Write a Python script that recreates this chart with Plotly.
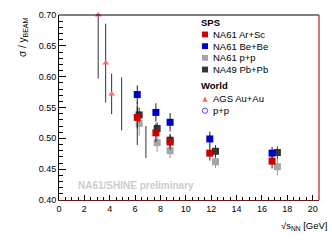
import plotly.graph_objects as go

# ---- data ----
argon_x = [6.17, 7.64, 8.76, 11.89, 16.8]
argon_y = [0.534, 0.509, 0.494, 0.476, 0.463]
argon_err = [0.018, 0.015, 0.012, 0.012, 0.012]

beryl_x = [6.17, 7.64, 8.76, 11.89, 16.8]
beryl_y = [0.571, 0.542, 0.526, 0.499, 0.476]
beryl_err = [0.015, 0.015, 0.015, 0.012, 0.010]

pp61_x = [6.32, 7.74, 8.76, 12.34, 17.22]
pp61_y = [0.524, 0.493, 0.480, 0.462, 0.454]
pp61_err = [0.020, 0.015, 0.012, 0.010, 0.014]

pb49_x = [6.32, 7.74, 8.76, 12.34, 17.22]
pb49_y = [0.538, 0.516, 0.497, 0.479, 0.477]
pb49_err = [0.012, 0.010, 0.010, 0.010, 0.010]

ags_x = [3.09, 3.68, 4.15]
ags_y = [0.700, 0.622, 0.572]
ags_err_up = [0.0, 0.064, 0.033]
ags_err_dn = [0.103, 0.064, 0.033]

ppw_x = [4.94, 6.17, 6.85]
ppw_y = [0.556, 0.524, 0.494]
ppw_err = [0.043, 0.035, 0.026]

FONT = "Liberation Sans"

fig = go.Figure()

def add(x, y, err, color, ecolor, symbol, size, name, errm=None, line=None):
    ey = dict(type="data", array=err, color=ecolor, thickness=1, width=0)
    if errm is not None:
        ey["arrayminus"] = errm
        ey["symmetric"] = False
    m = dict(color=color, symbol=symbol, size=size)
    if line:
        m["line"] = line
    fig.add_trace(go.Scatter(x=x, y=y, mode="markers", name=name, marker=m,
                             error_y=ey, cliponaxis=False, showlegend=False))

add(ppw_x, ppw_y, ppw_err, "rgba(0,0,0,0)", "#333333", "circle-open", 7, "p+p",
    line=dict(color="#4d4dff", width=1))
add(ags_x, ags_y, ags_err_up, "#ff6b6b", "#333333", "triangle-up", 6, "AGS Au+Au", errm=ags_err_dn)
add(pp61_x, pp61_y, pp61_err, "#a6a6a6", "#999999", "square", 7, "NA61 p+p")
add(pb49_x, pb49_y, pb49_err, "#333333", "#333333", "square", 7, "NA49 Pb+Pb")
add(beryl_x, beryl_y, beryl_err, "#0000cc", "#222222", "square", 7, "NA61 Be+Be")
add(argon_x, argon_y, argon_err, "#cc0000", "#222222", "square", 7, "NA61 Ar+Sc")

# ---- layout geometry ----
L, R, T, B = 59, 13, 10, 40
W, H = 332, 240
pw, ph = W - L - R, H - T - B

def px(x):
    return (x - L) / pw

def py(y):
    return (H - B - y) / ph

shapes = [
    dict(type="line", xref="paper", yref="paper", x0=0, x1=1, y0=1, y1=1,
         line=dict(color="black", width=1)),
    dict(type="line", xref="paper", yref="paper", x0=1, x1=1, y0=0, y1=1,
         line=dict(color="#b22222", width=1.2)),
]
annotations = []

def txt(x, y, s, size=9.5, bold=False, color="black", xanchor="left"):
    annotations.append(dict(xref="paper", yref="paper", x=px(x), y=py(y),
                            text=f"<b>{s}</b>" if bold else s, showarrow=False,
                            xanchor=xanchor, yanchor="middle",
                            font=dict(family=FONT, size=size, color=color)))

# legend
txt(199, 17.5, "SPS", bold=True)
leg_sq = [("NA61 Ar+Sc", "#cc0000", 30), ("NA61 Be+Be", "#0000cc", 42),
          ("NA61 p+p", "#a6a6a6", 54), ("NA49 Pb+Pb", "#333333", 66)]
for name, col, yy in leg_sq:
    shapes.append(dict(type="rect", xref="paper", yref="paper",
                       x0=px(202), x1=px(208), y0=py(yy + 3), y1=py(yy - 3),
                       fillcolor=col, line=dict(width=0)))
    txt(210.5, yy, name)
txt(199, 82.5, "World", bold=True)
# triangle
shapes.append(dict(type="path", xref="paper", yref="paper",
                   path=f"M {px(202.3)} {py(99)} L {px(207.7)} {py(99)} L {px(205)} {py(93.5)} Z",
                   fillcolor="#ff6b6b", line=dict(width=0)))
txt(210.5, 96, "AGS Au+Au")
shapes.append(dict(type="circle", xref="paper", yref="paper",
                   x0=px(202.3), x1=px(207.7), y0=py(111), y1=py(105.6),
                   line=dict(color="#4d4dff", width=1)))
txt(210.5, 108.3, "p+p")

# watermark
txt(76, 185.5, "NA61/SHINE preliminary", size=10, bold=True, color="#cccccc")

# axis titles
annotations.append(dict(xref="paper", yref="paper", x=px(330), y=py(226.5),
                        text="\u221as<sub>NN</sub> [GeV]", showarrow=False,
                        xanchor="right", yanchor="middle",
                        font=dict(family=FONT, size=9.5, color="black")))
annotations.append(dict(xref="paper", yref="paper", x=px(23), y=py(10),
                        text="\u03c3 / y<sub>BEAM</sub>", showarrow=False, textangle=-90,
                        xanchor="center", yanchor="top",
                        font=dict(family=FONT, size=10, color="black")))

fig.update_layout(
    width=W, height=H, margin=dict(l=L, r=R, t=T, b=B),
    paper_bgcolor="white", plot_bgcolor="white",
    shapes=shapes, annotations=annotations, showlegend=False,
    font=dict(family=FONT, size=9, color="black"),
)
fig.update_xaxes(range=[0, 20.5], tick0=0, dtick=2, ticks="inside", ticklen=5,
                 tickcolor="black", showgrid=False, zeroline=False,
                 showline=True, linecolor="#6b1a1a", linewidth=1,
                 tickfont=dict(family=FONT, size=9),
                 minor=dict(dtick=0.5, ticks="inside", ticklen=3, tickcolor="black", showgrid=False))
fig.update_yaxes(range=[0.40, 0.70], tick0=0.40, dtick=0.05, tickformat=".2f",
                 ticks="inside", ticklen=7, tickcolor="black", showgrid=False, zeroline=False,
                 showline=True, linecolor="black", linewidth=1,
                 tickfont=dict(family=FONT, size=9),
                 minor=dict(dtick=0.01, ticks="inside", ticklen=4, tickcolor="black", showgrid=False))

fig.write_html("out.html", config={"displayModeBar": False, "staticPlot": True},
               post_script="document.body.style.margin='0px';document.body.style.overflow='hidden';")
